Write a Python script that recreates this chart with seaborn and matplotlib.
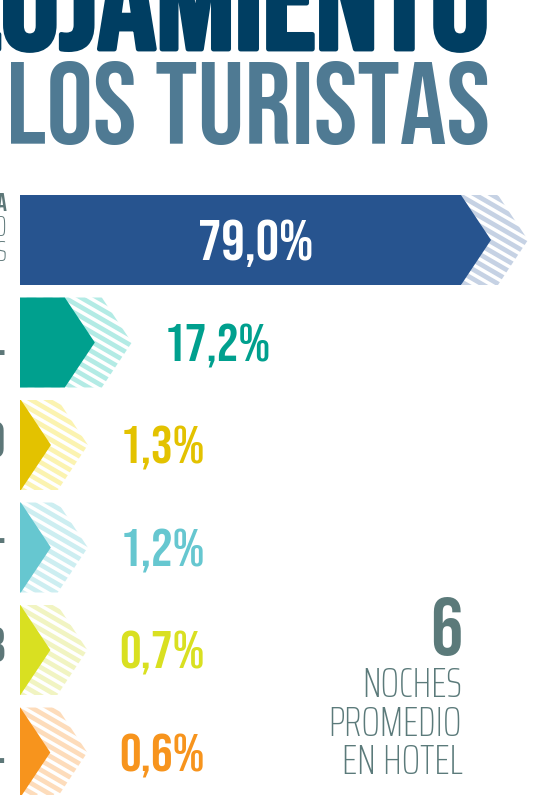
import numpy as np
import pandas as pd
import matplotlib
matplotlib.use("Agg")
import matplotlib.pyplot as plt
import matplotlib.patheffects as pe
import seaborn as sns
from matplotlib.patches import Polygon
from matplotlib.collections import LineCollection
from matplotlib.transforms import IdentityTransform

# ---------------- data ----------------
category_main = ["HOTELERÍA", "HOSTAL", "DEPARTAMENTO", "APART HOTEL", "B&B", "MOTEL"]
category_sub = ["DE TURISMO", "Y NEGOCIOS"]
shares = [79.0, 17.2, 1.3, 1.2, 0.7, 0.6]
value_labels = ["79,0%", "17,2%", "1,3%", "1,2%", "0,7%", "0,6%"]
title_line1 = "ALOJAMIENTO"
title_line2 = "DE LOS TURISTAS"
nights_value = "6"
nights_lines = ["NOCHES", "PROMEDIO", "EN HOTEL"]

bar_colors = ["#27548f", "#00a08e", "#e3c200", "#66c7d0", "#d9e021", "#f7941d"]
stripe_colors = ["#c6d2e4", "#b3ebe5", "#fbf3b0", "#cdeef1", "#f1f4c2", "#fddcbb"]
label_colors = ["#ffffff", "#00a08e", "#e3c200", "#66c7d0", "#d9e021", "#f7941d"]

W, H, DPI = 556, 795, 100
BOLD = ["Bebas Neue", "Oswald", "Saira ExtraCondensed", "DejaVu Sans"]
THIN = ["Saira ExtraCondensed", "Sofia Sans ExtraCondensed", "DejaVu Sans"]

sns.set_theme(style="white")
plt.rcParams["font.family"] = BOLD

fig = plt.figure(figsize=(W / DPI, H / DPI), dpi=DPI)
fig.patch.set_facecolor("white")
ax = fig.add_axes([0, 0, 1, 1])

df = pd.DataFrame({"cat": category_main, "share": shares})
bar_w = 0.878
sns.barplot(data=df, y="cat", x="share", hue="cat", palette=bar_colors,
            saturation=1, legend=False, width=bar_w, linewidth=0,
            orient="h", ax=ax, zorder=3)


def fwd(x):
    x = np.asarray(x, dtype=float)
    return np.sign(x) * np.abs(x) ** 1.5


def inv(y):
    y = np.asarray(y, dtype=float)
    return np.sign(y) * np.abs(y) ** (1 / 1.5)


ax.set_xscale("function", functions=(fwd, inv))
F = float(fwd(max(shares)))
x0_px, xmax_px = 20.0, 461.0
fl = -x0_px / (xmax_px - x0_px) * F
fr = (W - x0_px) / (xmax_px - x0_px) * F
ax.set_xlim(float(inv(fl)), float(inv(fr)))
pitch, first_c = 102.5, 240.0
ax.set_ylim((H - first_c) / pitch, -first_c / pitch)
ax.set_autoscale_on(False)
ax.axis("off")

T = ax.transData
ID = IdentityTransform()
hw = bar_w / 2
shift = 37.0
slope = -np.tan(np.radians(30))
period = 9.5
CAP = 0.70


def px(fs):
    return fs * DPI / 72.0


for i, v in enumerate(shares):
    xa, yt = T.transform((0, i - hw))
    xe, yb = T.transform((v, i + hw))
    yc = T.transform((v, i))[1]
    hh = (yt - yb) / 2
    tip = hh * 2 / 3
    solid = Polygon([(xa, yt), (xe, yt), (xe + tip, yc), (xe, yb), (xa, yb)],
                    closed=True, transform=ID, fc=bar_colors[i], ec="none", zorder=4)
    ax.add_patch(solid)
    spoly = Polygon([(xa, yt), (xe + shift, yt), (xe + shift + tip, yc),
                     (xe + shift, yb), (xa, yb)],
                    closed=True, transform=ID, fc="white", ec="none", zorder=1)
    ax.add_patch(spoly)
    xr = xe + shift + tip + 10
    L = xr - xa
    segs = []
    c = yb - 5
    while c < yt - slope * L + 10:
        segs.append([(xa - 5, c), (xr, c + slope * (xr - xa + 5))])
        c += period
    lc = LineCollection(segs, colors=stripe_colors[i], linewidths=3.4,
                        transform=ID, zorder=2)
    lc.set_clip_path(spoly)
    ax.add_collection(lc)

    # value labels
    if i == 0:
        fs = 42
        ax.text((xa + xe + tip) / 2, yc - CAP * px(fs) / 2, value_labels[i],
                transform=ID, ha="center", va="baseline", fontsize=fs,
                family=BOLD, color=label_colors[i], zorder=6)
    else:
        fs = 39
        ax.text(xe + shift + tip + 32, yc - CAP * px(fs) / 2, value_labels[i],
                transform=ID, ha="left", va="baseline", fontsize=fs,
                family=BOLD, color=label_colors[i], zorder=6)

# cropped category labels at the left edge
frag_col = "#5d7778"
frag_base = [None, 356, 457, 544, 661, 764]
ax.text(7, H - 211, category_main[0], transform=ID, ha="right", va="baseline",
        fontsize=18, family=BOLD, color=frag_col)
for k, s in enumerate(category_sub):
    ax.text(7, H - (236 + 25 * k), s, transform=ID, ha="right", va="baseline",
            fontsize=21, family=THIN, fontweight="light", color=frag_col)
for i in range(1, len(category_main)):
    ax.text(5, H - frag_base[i], category_main[i], transform=ID, ha="right",
            va="baseline", fontsize=35, family=BOLD, color=frag_col)

# title (cropped)
navy = "#003e62"
ax.text(490, H - 49, title_line1, transform=ID, ha="right", va="baseline",
        fontsize=105, family=BOLD, color=navy,
        path_effects=[pe.withStroke(linewidth=3.5, foreground=navy)])
ax.text(490, H - 144, title_line2, transform=ID, ha="right", va="baseline",
        fontsize=84, family=BOLD, color="#4f7a93")

# nights block
nc = "#5b7a7a"
ax.text(462, H - 655, nights_value, transform=ID, ha="right", va="baseline",
        fontsize=58, family=BOLD, color=nc)
for k, s in enumerate(nights_lines):
    ax.text(462, H - (697 + 38.5 * k), s, transform=ID, ha="right", va="baseline",
            fontsize=31, family=THIN, fontweight="light", color=nc)

fig.savefig("out.png", dpi=DPI, facecolor="white")
